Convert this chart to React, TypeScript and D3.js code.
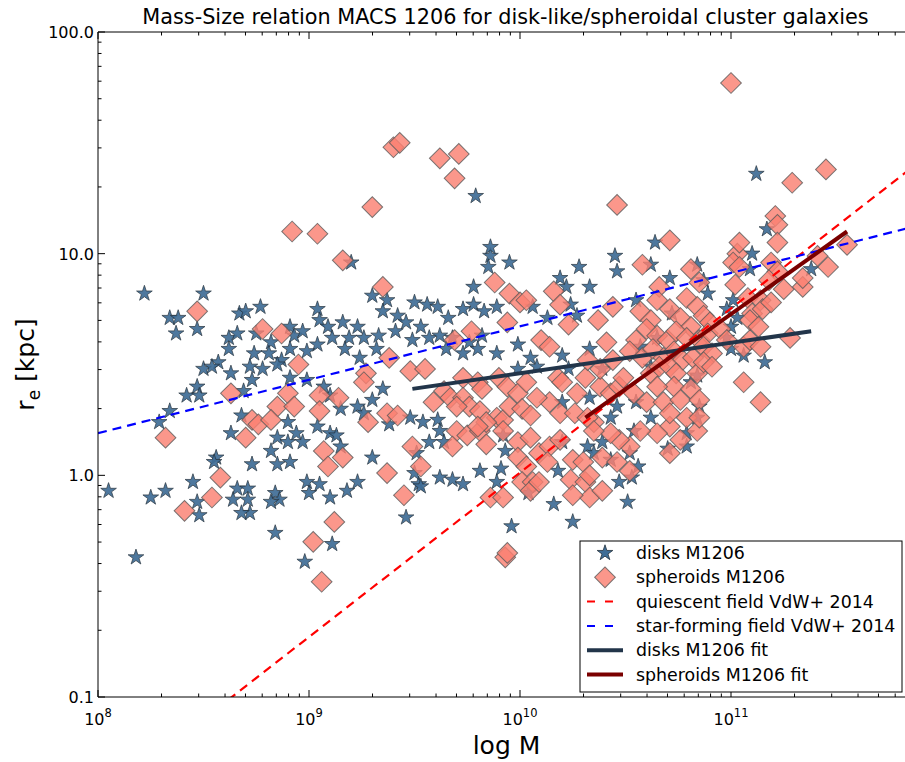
import React from 'react';
import * as d3 from 'd3';

// [log10 M, log10 r_e (kpc)]
const diskPoints: [number, number][] = [
  [8.05, -0.07], [8.18, -0.37], [8.22, 0.82], [8.25, -0.1], [8.32, -0.07], [8.5, 0.82], [8.34, 0.71], [8.38, 0.71],
  [8.37, 0.64], [8.47, 0.66], [8.67, 0.73], [8.7, 0.74], [8.77, 0.76], [8.62, 0.62], [8.66, 0.64], [8.62, 0.57],
  [8.75, 0.64], [8.82, 0.6], [8.91, 0.67], [8.93, 0.63], [8.97, 0.65], [9.04, 0.75], [9.05, 0.7], [9.09, 0.67],
  [9.11, 0.62], [9.04, 0.59], [8.99, 0.56], [8.91, 0.57], [8.87, 0.52], [8.81, 0.55], [8.74, 0.55], [8.72, 0.49],
  [8.63, 0.46], [8.57, 0.51], [8.5, 0.48], [8.54, 0.49], [8.47, 0.4], [8.42, 0.36], [8.48, 0.36], [8.69, 0.38],
  [8.73, 0.43], [8.78, 0.48], [8.85, 0.5], [8.91, 0.44], [8.99, 0.43], [9.07, 0.4], [9.1, 0.36], [8.34, 0.29],
  [8.29, 0.24], [8.63, 0.19], [8.68, 0.27], [8.85, 0.17], [8.9, 0.24], [8.94, 0.19], [8.97, 0.15], [9.04, 0.22],
  [9.1, 0.19], [8.82, 0.11], [8.9, 0.15], [8.91, 0.06], [8.85, 0.05], [8.73, 0.05], [8.56, 0.08], [8.55, 0.06],
  [8.45, -0.03], [8.47, -0.12], [8.48, -0.18], [8.66, -0.06], [8.71, -0.06], [8.71, -0.11], [8.72, -0.17], [8.68, -0.17],
  [8.84, -0.08], [8.86, -0.11], [8.82, -0.12], [8.99, -0.03], [9.0, -0.08], [9.05, -0.04], [9.1, -0.1], [8.84, -0.26],
  [8.98, -0.39], [9.11, -0.31], [8.64, -0.11], [9.2, 0.96], [9.95, 0.96], [9.86, 0.99], [9.85, 0.94], [10.28, 0.94],
  [10.19, 0.89], [10.22, 0.85], [10.33, 0.85], [9.78, 0.85], [9.3, 0.81], [9.37, 0.79], [9.5, 0.78], [9.56, 0.77],
  [9.61, 0.76], [9.66, 0.71], [9.73, 0.75], [9.78, 0.77], [9.83, 0.74], [9.89, 0.76], [10.06, 0.76], [10.13, 0.71],
  [10.24, 0.77], [10.27, 0.72], [9.35, 0.74], [9.42, 0.72], [9.46, 0.69], [9.53, 0.67], [9.41, 0.65], [9.33, 0.63],
  [9.26, 0.62], [9.19, 0.62], [9.16, 0.69], [9.23, 0.67], [9.17, 0.57], [9.24, 0.53], [9.32, 0.57], [9.49, 0.61],
  [9.57, 0.62], [9.62, 0.63], [9.68, 0.62], [9.76, 0.6], [9.82, 0.63], [9.65, 0.57], [9.73, 0.55], [9.8, 0.57],
  [9.89, 0.55], [9.99, 0.59], [10.05, 0.53], [10.2, 0.54], [10.33, 0.57], [10.08, 0.49], [9.99, 0.48], [10.39, 0.48],
  [10.33, 0.35], [10.2, 0.33], [9.35, 0.39], [9.3, 0.34], [9.23, 0.31], [9.26, 0.28], [9.15, 0.3], [9.38, 0.23],
  [9.48, 0.26], [9.54, 0.24], [9.61, 0.25], [9.62, 0.2], [9.64, 0.15], [9.57, 0.15], [9.13, 0.18], [9.15, 0.13],
  [9.3, 0.08], [9.23, -0.03], [9.18, -0.07], [9.46, -0.19], [9.51, 0.1], [9.52, -0.04], [9.62, -0.01], [9.68, -0.02],
  [9.73, -0.04], [9.81, 0.02], [9.91, 0.03], [9.89, -0.03], [9.93, 0.11], [9.92, 0.18], [10.16, -0.13], [10.25, -0.21],
  [9.96, -0.23], [10.32, 0.13], [10.2, 0.15], [10.39, 0.15], [10.23, 0.48], [9.5, 0.01], [9.53, -0.05], [10.04, -0.08],
  [10.18, 0.02], [9.79, 1.26], [9.86, 1.03], [10.45, 0.99], [11.12, 1.36], [10.64, 1.05], [10.46, 0.92], [10.62, 0.95],
  [10.71, 0.89], [10.84, 0.95], [10.89, 0.82], [10.87, 0.88], [11.01, 0.79], [11.1, 1.0], [11.17, 1.11], [11.09, 0.93],
  [11.38, 0.93], [10.55, 0.79], [10.72, 0.73], [10.98, 0.75], [11.03, 0.71], [11.0, 0.67], [10.98, 0.62], [10.57, 0.58],
  [11.0, 0.57], [11.06, 0.54], [11.16, 0.51], [10.65, 0.62], [10.84, 0.45], [10.62, 0.49], [10.81, 0.42], [10.46, 0.31],
  [10.55, 0.33], [10.62, 0.26], [10.54, 0.2], [10.43, 0.26], [10.85, 0.31], [10.84, 0.26], [10.79, 0.19], [10.7, 0.12],
  [10.79, 0.13], [10.52, 0.1], [10.43, 0.07], [10.35, 0.1], [10.56, 0.04], [10.53, -0.01], [10.47, -0.03], [10.51, -0.12],
];

const spheroidPoints: [number, number][] = [
  [8.92, 1.1], [9.04, 1.09], [9.16, 0.97], [8.47, 0.74], [8.78, 0.66], [8.87, 0.64], [8.95, 0.5], [8.63, 0.37],
  [8.9, 0.37], [8.85, 0.31], [8.93, 0.31], [9.05, 0.36], [9.05, 0.29], [9.14, 0.35], [8.73, 0.25], [8.76, 0.23],
  [8.82, 0.25], [8.7, 0.17], [8.32, 0.17], [9.07, 0.11], [9.09, 0.04], [8.58, -0.01], [8.54, -0.1], [8.41, -0.16],
  [9.12, -0.21], [9.02, -0.3], [9.06, -0.48], [9.4, 1.48], [9.43, 1.5], [9.62, 1.43], [9.71, 1.45], [9.69, 1.34],
  [9.3, 1.21], [10.46, 1.22], [11.0, 1.77], [11.29, 1.32], [11.45, 1.38], [11.21, 1.17], [9.35, 0.85], [9.95, 0.82],
  [10.0, 0.78], [10.03, 0.79], [10.16, 0.83], [10.19, 0.77], [9.88, 0.87], [9.94, 0.69], [9.77, 0.65], [9.69, 0.61],
  [10.1, 0.61], [10.14, 0.58], [10.23, 0.68], [10.37, 0.7], [9.38, 0.53], [9.48, 0.47], [9.55, 0.48], [9.27, 0.46],
  [9.26, 0.42], [9.73, 0.44], [9.8, 0.42], [9.82, 0.39], [9.9, 0.44], [9.94, 0.4], [9.99, 0.37], [10.03, 0.42],
  [10.18, 0.44], [10.2, 0.42], [10.31, 0.44], [10.32, 0.52], [10.38, 0.4], [10.27, 0.37], [10.14, 0.33], [10.08, 0.35],
  [9.64, 0.38], [9.67, 0.35], [9.73, 0.35], [9.76, 0.31], [9.59, 0.33], [9.7, 0.31], [9.81, 0.29], [9.89, 0.26],
  [9.92, 0.25], [9.95, 0.31], [10.01, 0.3], [10.05, 0.27], [10.19, 0.28], [10.26, 0.28], [10.35, 0.24], [9.37, 0.28],
  [9.42, 0.27], [9.28, 0.24], [9.7, 0.2], [9.75, 0.18], [9.81, 0.2], [9.84, 0.24], [9.92, 0.2], [9.99, 0.15],
  [10.05, 0.17], [10.09, 0.1], [10.14, 0.13], [10.19, 0.16], [9.99, 0.08], [10.03, 0.04], [10.13, 0.06], [10.01, -0.03],
  [10.06, -0.03], [10.05, -0.07], [10.25, 0.07], [10.3, 0.06], [10.24, -0.02], [10.31, -0.03], [10.33, -0.1], [10.25, -0.09],
  [10.39, -0.07], [9.8, 0.22], [9.84, 0.14], [9.68, 0.13], [9.49, 0.13], [9.53, 0.04], [9.37, 0.01], [9.45, -0.09],
  [9.16, 0.08], [9.86, -0.1], [9.92, -0.1], [10.32, 0.26], [10.43, 0.37], [9.93, -0.37], [9.94, -0.35], [10.09, -0.03],
  [10.33, 0.0], [10.71, 1.06], [10.58, 0.95], [10.81, 0.93], [10.85, 0.87], [10.66, 0.85], [10.79, 0.8], [10.44, 0.76],
  [10.57, 0.74], [10.62, 0.7], [10.65, 0.79], [10.71, 0.75], [10.76, 0.71], [10.84, 0.76], [10.87, 0.72], [10.9, 0.69],
  [10.81, 0.67], [10.6, 0.66], [10.65, 0.63], [10.7, 0.61], [10.74, 0.65], [10.79, 0.62], [10.85, 0.61], [10.89, 0.64],
  [10.95, 0.66], [10.55, 0.61], [10.52, 0.56], [10.58, 0.53], [10.63, 0.57], [10.68, 0.53], [10.73, 0.56], [10.77, 0.52],
  [10.82, 0.53], [10.87, 0.58], [10.91, 0.55], [10.98, 0.61], [11.06, 0.58], [11.09, 0.61], [11.03, 1.0], [11.04, 1.05],
  [11.01, 0.96], [11.04, 0.94], [11.19, 0.96], [11.22, 0.92], [11.18, 0.88], [11.02, 0.86], [11.08, 0.8], [11.14, 0.79],
  [11.1, 0.73], [11.15, 0.75], [11.19, 0.78], [11.09, 0.7], [11.13, 0.67], [11.25, 0.84], [11.34, 0.85], [11.34, 0.89],
  [11.22, 1.13], [11.22, 1.05], [11.41, 0.99], [11.46, 0.94], [11.55, 1.04], [11.28, 0.62], [11.14, 0.58], [11.06, 0.42],
  [11.14, 0.33], [10.41, 0.6], [10.44, 0.52], [10.38, 0.48], [10.47, 0.4], [10.54, 0.37], [10.49, 0.44], [10.62, 0.46],
  [10.66, 0.49], [10.71, 0.49], [10.74, 0.46], [10.73, 0.4], [10.65, 0.4], [10.6, 0.33], [10.68, 0.33], [10.76, 0.34],
  [10.81, 0.39], [10.84, 0.46], [10.87, 0.51], [10.91, 0.49], [10.85, 0.34], [10.79, 0.26], [10.84, 0.2], [10.71, 0.22],
  [10.65, 0.19], [10.57, 0.2], [10.52, 0.13], [10.47, 0.16], [10.43, 0.19], [10.35, 0.2], [10.39, 0.08], [10.46, 0.06],
  [10.52, 0.02], [10.71, 0.1], [10.76, 0.16], [10.85, 0.26], [10.71, 0.28],
];

// relations, [log10 M, log10 r_e] end points
const quiescentVdW: [number, number][] = [[8.0, -1.47], [11.9, 1.42]];
const starFormingVdW: [number, number][] = [[8.0, 0.19], [11.9, 1.13]];
const diskFit: [number, number][] = [[9.49, 0.39], [11.38, 0.65]];
const spheroidFit: [number, number][] = [[10.31, 0.26], [11.55, 1.1]];

const xTickExps = [8, 9, 10, 11];
const yTickValues = [0.1, 1, 10, 100];
const yTickLabels = ['0.1', '1.0', '10.0', '100.0'];
const legendLabels = [
  'disks M1206',
  'spheroids M1206',
  'quiescent field VdW+ 2014',
  'star-forming field VdW+ 2014',
  'disks M1206 fit',
  'spheroids M1206 fit',
];

const W = 905;
const H = 762;
const left = 98;
const right = 907;
const top = 32;
const bottom = 697;

const STAR_FILL = '#3f6d96';
const STAR_EDGE = '#26333f';
const DIAM_FILL = '#fa8072';
const DIAM_EDGE = '#5a5a5a';
const FONT = 'DejaVu Sans, sans-serif';

export default function App() {
  const x = d3.scaleLog().domain([1e8, Math.pow(10, 8 + (right - left) / 211)]).range([left, right]);
  const y = d3.scaleLog().domain([0.1, 100]).range([bottom, top]);

  const line = d3
    .line<[number, number]>()
    .x((d) => x(Math.pow(10, d[0])))
    .y((d) => y(Math.pow(10, d[1])));

  const starPath = d3.symbol(d3.symbolStar, 76)() as string;
  const squarePath = d3.symbol(d3.symbolSquare, 215)() as string;

  const xMinor: number[] = [];
  xTickExps.forEach((e) => {
    for (let m = 2; m <= 9; m++) {
      const v = m * Math.pow(10, e);
      if (x(v) <= right) xMinor.push(v);
    }
  });
  const yMinor: number[] = [];
  [-1, 0, 1].forEach((e) => {
    for (let m = 2; m <= 9; m++) yMinor.push(m * Math.pow(10, e));
  });

  const legendX = 580;
  const legendY = 541;
  const rowY = (i: number) => legendY + 12 + i * 24.3;

  return (
    <svg
      width={W}
      height={H}
      style={{ position: 'absolute', left: 0, top: 0, background: '#fff' }}
      fontFamily={FONT}
    >
      <defs>
        <clipPath id="plot-clip">
          <rect x={left} y={top} width={right - left} height={bottom - top} />
        </clipPath>
      </defs>
      <rect width={W} height={H} fill="#fff" />

      <g clipPath="url(#plot-clip)">
        {diskPoints.map((d, i) => (
          <path
            key={'s' + i}
            d={starPath}
            transform={`translate(${x(Math.pow(10, d[0]))},${y(Math.pow(10, d[1]))})`}
            fill={STAR_FILL}
            stroke={STAR_EDGE}
            strokeWidth={0.8}
            opacity={0.92}
          />
        ))}
        {spheroidPoints.map((d, i) => (
          <path
            key={'d' + i}
            d={squarePath}
            transform={`translate(${x(Math.pow(10, d[0]))},${y(Math.pow(10, d[1]))}) rotate(45)`}
            fill={DIAM_FILL}
            fillOpacity={0.82}
            stroke={DIAM_EDGE}
            strokeOpacity={0.8}
            strokeWidth={1}
          />
        ))}
        <path d={line(quiescentVdW) as string} fill="none" stroke="#ff0000" strokeWidth={2.2} strokeDasharray="9,6" />
        <path d={line(starFormingVdW) as string} fill="none" stroke="#0000ff" strokeWidth={2.2} strokeDasharray="9,6" />
        <path d={line(diskFit) as string} fill="none" stroke="#22354a" strokeWidth={4} />
        <path d={line(spheroidFit) as string} fill="none" stroke="#7a0000" strokeWidth={4} />
      </g>

      {/* axes frame */}
      <g stroke="#000" strokeWidth={1} fill="none">
        <line x1={left} x2={right} y1={top} y2={top} />
        <line x1={left} x2={right} y1={bottom} y2={bottom} />
        <line x1={left} x2={left} y1={top} y2={bottom} />
      </g>

      {/* x ticks, inward on bottom and top */}
      <g stroke="#000" strokeWidth={1}>
        {xTickExps.map((e) => {
          const px = x(Math.pow(10, e));
          return (
            <g key={'xt' + e}>
              <line x1={px} x2={px} y1={bottom} y2={bottom - 7} />
              <line x1={px} x2={px} y1={top} y2={top + 7} />
            </g>
          );
        })}
        {xMinor.map((v, i) => {
          const px = x(v);
          return (
            <g key={'xm' + i}>
              <line x1={px} x2={px} y1={bottom} y2={bottom - 3.5} />
              <line x1={px} x2={px} y1={top} y2={top + 3.5} />
            </g>
          );
        })}
        {yTickValues.map((v) => (
          <line key={'yt' + v} x1={left} x2={left + 7} y1={y(v)} y2={y(v)} />
        ))}
        {yMinor.map((v, i) => (
          <line key={'ym' + i} x1={left} x2={left + 3.5} y1={y(v)} y2={y(v)} />
        ))}
      </g>

      {/* tick labels */}
      {xTickExps.map((e) => (
        <text key={'xl' + e} x={x(Math.pow(10, e))} y={725} textAnchor="middle" fontSize={16} fill="#000">
          <tspan>10</tspan>
          <tspan dy={-8} fontSize={11.5}>
            {e}
          </tspan>
        </text>
      ))}
      {yTickValues.map((v, i) => (
        <text key={'yl' + v} x={left - 4} y={y(v) + 6} textAnchor="end" fontSize={16} fill="#000">
          {yTickLabels[i]}
        </text>
      ))}

      {/* titles */}
      <text x={(left + right) / 2 + 3} y={24} textAnchor="middle" fontSize={20.8} fill="#000">
        Mass-Size relation MACS 1206 for disk-like/spheroidal cluster galaxies
      </text>
      <text x={(left + right) / 2 + 4} y={754} textAnchor="middle" fontSize={25} fill="#000">
        log M
      </text>
      <text
        transform={`translate(34,${(top + bottom) / 2}) rotate(-90)`}
        textAnchor="middle"
        fontSize={25}
        fill="#000"
      >
        r<tspan dy={6} fontSize={17}>e</tspan>
        <tspan dy={-6}> [kpc]</tspan>
      </text>

      {/* legend */}
      <g>
        <rect x={legendX} y={legendY} width={322} height={151} fill="#fff" stroke="#000" strokeWidth={1} />
        <path
          d={starPath}
          transform={`translate(605,${rowY(0)})`}
          fill={STAR_FILL}
          stroke={STAR_EDGE}
          strokeWidth={0.8}
        />
        <path
          d={squarePath}
          transform={`translate(605,${rowY(1)}) rotate(45)`}
          fill={DIAM_FILL}
          fillOpacity={0.82}
          stroke={DIAM_EDGE}
          strokeOpacity={0.8}
        />
        <line x1={587} x2={623} y1={rowY(2)} y2={rowY(2)} stroke="#ff0000" strokeWidth={2} strokeDasharray="8,10" />
        <line x1={587} x2={623} y1={rowY(3)} y2={rowY(3)} stroke="#0000ff" strokeWidth={2} strokeDasharray="8,10" />
        <line x1={587} x2={623} y1={rowY(4)} y2={rowY(4)} stroke="#22354a" strokeWidth={4} />
        <line x1={587} x2={623} y1={rowY(5)} y2={rowY(5)} stroke="#7a0000" strokeWidth={4} />
        {legendLabels.map((t, i) => (
          <text key={t} x={636} y={rowY(i) + 6} fontSize={17.4} fill="#000">
            {t}
          </text>
        ))}
      </g>
    </svg>
  );
}
